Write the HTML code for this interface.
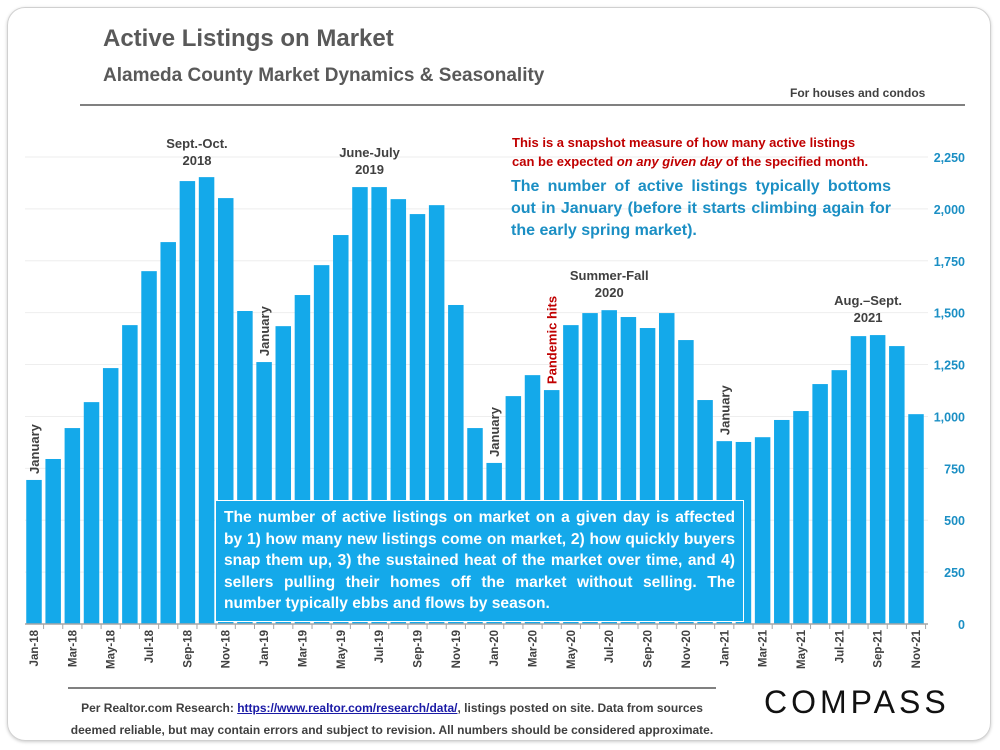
<!DOCTYPE html>
<html><head><meta charset="utf-8"><style>
body{margin:0;background:#fff;font-family:"Liberation Sans",sans-serif;}
#wrap{position:relative;width:1000px;height:750px;overflow:hidden;}
.card{position:absolute;left:7px;top:7px;width:982px;height:732px;border:1px solid #d0d0d0;border-radius:18px;box-shadow:0 1px 3px #ccc;}
.t{position:absolute;white-space:nowrap;}
</style></head><body>
<div id="wrap">
<div class="card"></div>
<div class="t" style="left:103px;top:25px;font-size:24px;font-weight:bold;color:#595959;">Active Listings on Market</div>
<div class="t" style="left:103px;top:65px;font-size:19px;font-weight:bold;color:#595959;">Alameda County Market Dynamics &amp; Seasonality</div>
<div class="t" style="left:790px;top:86px;font-size:12px;font-weight:bold;color:#404040;">For houses and condos</div>
<div style="position:absolute;left:80px;top:104px;width:885px;height:2px;background:#808080;"></div>
<svg id="chart" width="1000" height="750" style="position:absolute;left:0;top:0;"></svg>
<div class="t" style="left:512px;top:133px;font-size:13px;font-weight:bold;color:#c00000;line-height:19px;">This is a snapshot measure of how many active listings<br>can be expected <i>on any given day</i> of the specified month.</div>
<div class="t" style="left:511px;top:176px;font-size:16px;font-weight:bold;color:#1b8fc4;line-height:22px;width:380px;white-space:normal;text-align:justify;">The number of active listings typically bottoms out in January (before it starts climbing again for the early spring market).</div>
<div style="position:absolute;left:215px;top:500px;width:511px;height:108px;padding:6px 8px;background:#14a9ea;border:1px solid #fff;color:#fff;font-size:15.6px;font-weight:bold;line-height:21.5px;text-align:justify;">The number of active listings on market on a given day is affected by 1) how many new listings come on market, 2) how quickly buyers snap them up, 3) the sustained heat of the market over time, and 4) sellers pulling their homes off the market without selling. The number typically ebbs and flows by season.</div>
<div style="position:absolute;left:68px;top:687px;width:648px;height:2px;background:#808080;"></div>
<div class="t" style="left:62px;top:697px;font-size:12px;font-weight:bold;color:#404040;line-height:22px;text-align:center;width:660px;">Per Realtor.com Research: <span style="color:#1a1aa6;text-decoration:underline;">https://www.realtor.com/research/data/</span>, listings posted on site. Data from sources<br>deemed reliable, but may contain errors and subject to revision. All numbers should be considered approximate.</div>
<div class="t" style="left:764px;top:684px;font-size:32px;letter-spacing:4px;color:#111;">COMPASS</div>
</div>
<script>
const months=["Jan-18","Feb-18","Mar-18","Apr-18","May-18","Jun-18","Jul-18","Aug-18","Sep-18","Oct-18","Nov-18","Dec-18","Jan-19","Feb-19","Mar-19","Apr-19","May-19","Jun-19","Jul-19","Aug-19","Sep-19","Oct-19","Nov-19","Dec-19","Jan-20","Feb-20","Mar-20","Apr-20","May-20","Jun-20","Jul-20","Aug-20","Sep-20","Oct-20","Nov-20","Dec-20","Jan-21","Feb-21","Mar-21","Apr-21","May-21","Jun-21","Jul-21","Aug-21","Sep-21","Oct-21","Nov-21"];
const listings=[694,795,944,1069,1233,1440,1700,1840,2134,2153,2052,1508,1262,1435,1585,1729,1874,2105,2105,2047,1975,2018,1537,944,776,1098,1199,1127,1440,1498,1512,1479,1426,1498,1368,1079,881,877,900,983,1026,1156,1223,1387,1392,1339,1011];
const yTicks=[0,250,500,750,1000,1250,1500,1750,2000,2250];
const yTickLabels=["0","250","500","750","1,000","1,250","1,500","1,750","2,000","2,250"];
const annotations=[{i:8.5,v:2150,lines:["Sept.-Oct.","2018"],color:"#404040"},{i:17.5,v:2105,lines:["June-July","2019"],color:"#404040"},{i:30,v:1512,lines:["Summer-Fall","2020"],color:"#404040"},{i:43.5,v:1392,lines:["Aug.–Sept.","2021"],color:"#404040"}];
const vertNotes=[{i:0,v:694,text:"January",color:"#404040"},{i:12,v:1262,text:"January",color:"#404040"},{i:24,v:776,text:"January",color:"#404040"},{i:27,v:1127,text:"Pandemic hits",color:"#c00000"},{i:36,v:881,text:"January",color:"#404040"}];
const svg=document.getElementById('chart');const NS="http://www.w3.org/2000/svg";
const x0=34,step=(916-34)/46,yBase=624,yTop=157,bw=15.5;
const X=i=>x0+i*step;const Y=v=>yBase-(v/2250)*(yBase-yTop);
function mk(t,a,p){const e=document.createElementNS(NS,t);for(const k in a)e.setAttribute(k,a[k]);(p||svg).appendChild(e);return e;}
yTicks.forEach((v,k)=>{const g=mk('line',{x1:25,x2:928,y1:Y(v),y2:Y(v),stroke:'#eeeeee','stroke-width':1});


const t=mk('text',{x:965,y:Y(v)+5,'text-anchor':'end','font-size':12.5,'font-weight':'bold',fill:'#1b8fc4'});t.textContent=yTickLabels[k];

});
listings.forEach((v,i)=>{const r=mk('rect',{x:X(i)-bw/2,y:Y(v),width:bw,height:yBase-Y(v),fill:'#14a9ea'});

});
const ax=mk('line',{x1:25,x2:928,y1:yBase,y2:yBase,stroke:'#a6a6a6','stroke-width':1.5});


months.forEach((m,i)=>{mk('line',{x1:X(i)+step/2,x2:X(i)+step/2,y1:yBase,y2:yBase+5,stroke:'#a6a6a6'});
if(i%2===0){const t=mk('text',{transform:`translate(${X(i)+4},${yBase+6}) rotate(-90)`,'text-anchor':'end','font-size':11.5,'font-weight':'bold',fill:'#404040'});t.textContent=m;

}});
annotations.forEach(a=>{a.lines.forEach((l,k)=>{const t=mk('text',{x:X(a.i),y:Y(a.v)-30+k*17,'text-anchor':'middle','font-size':13,'font-weight':'bold',fill:a.color});t.textContent=l;

});});
vertNotes.forEach(n=>{const t=mk('text',{transform:`translate(${X(n.i)+5},${Y(n.v)-6}) rotate(-90)`,'font-size':13,'font-weight':'bold',fill:n.color});t.textContent=n.text;

});
</script>
</body></html>
